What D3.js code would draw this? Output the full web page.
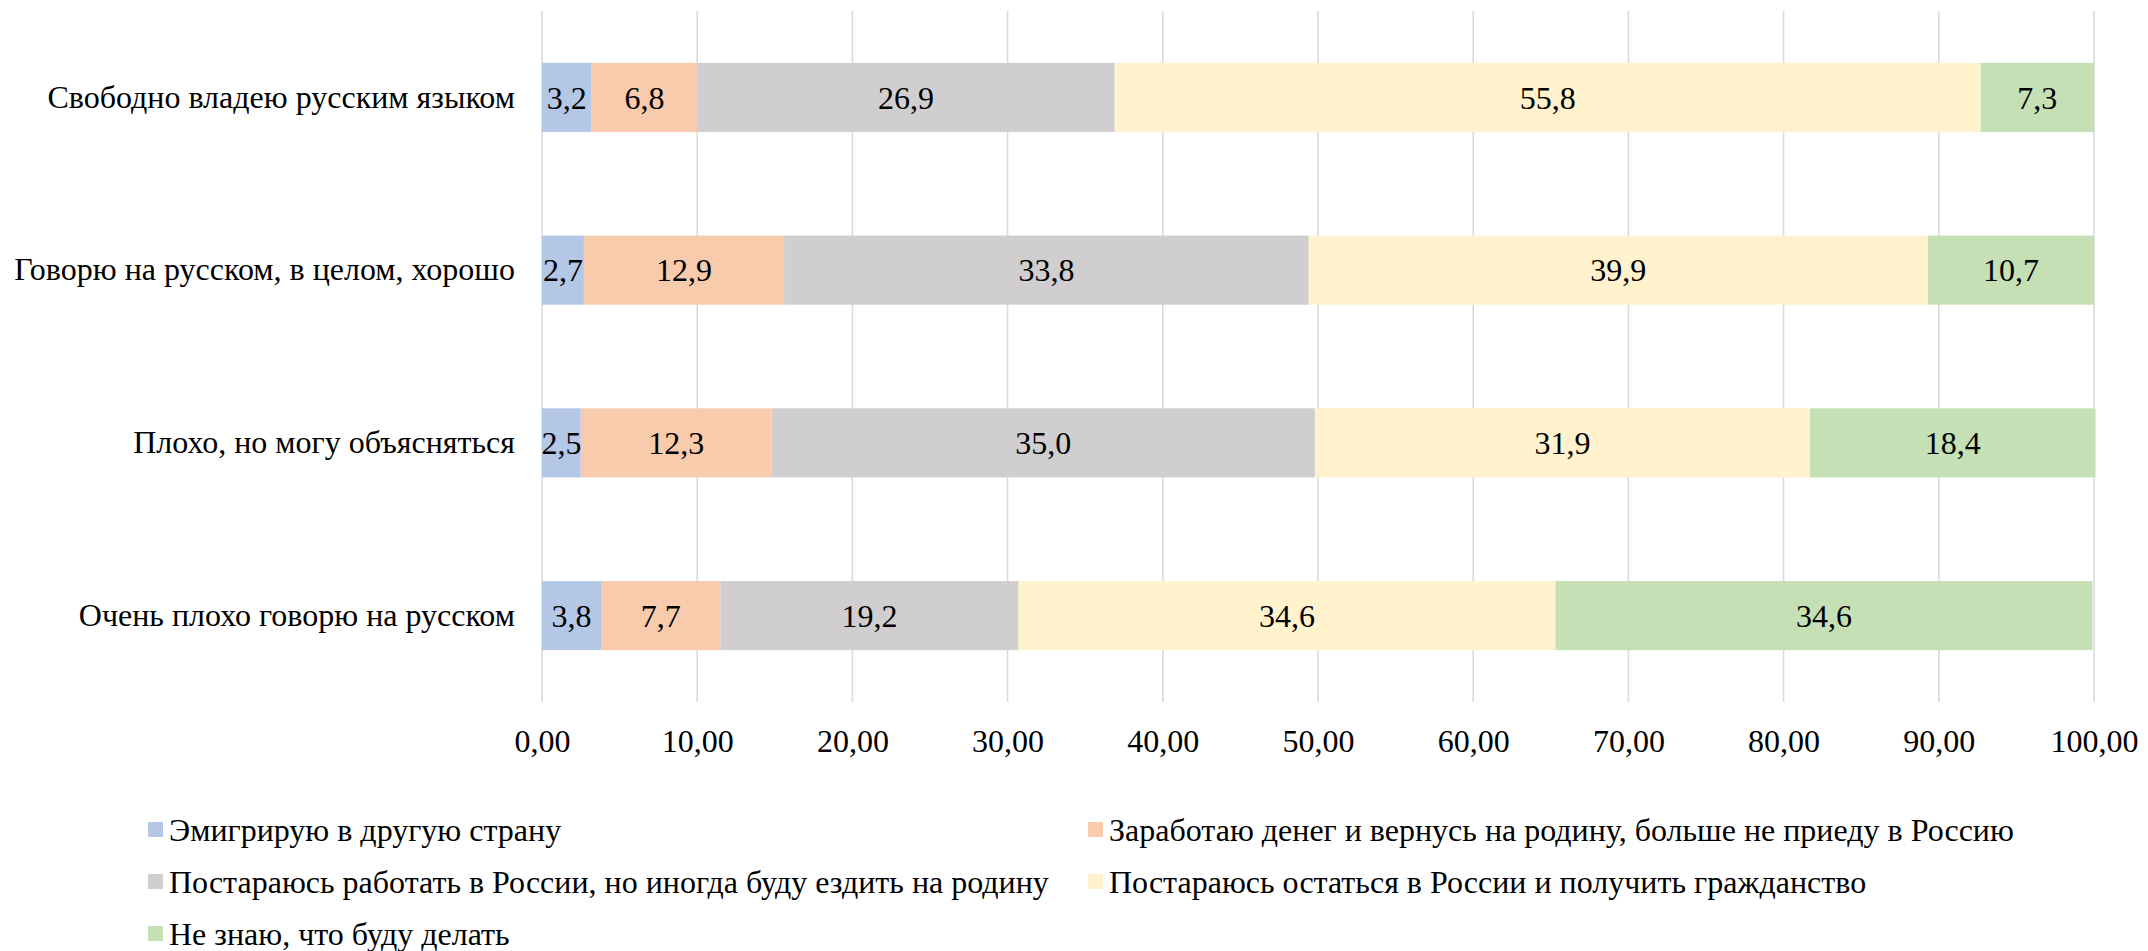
<!DOCTYPE html>
<html>
<head>
<meta charset="utf-8">
<script src="https://cdn.jsdelivr.net/npm/d3@7"></script>
<style>
  body { margin: 0; background: #fff; }
</style>
</head>
<body>
<svg width="2148" height="951"></svg>
<script>
// categories (top to bottom)
const categories = [
  "Свободно владею русским языком",
  "Говорю на русском, в целом, хорошо",
  "Плохо, но могу объясняться",
  "Очень плохо говорю на русском"
];

const seriesNames = [
  "Эмигрирую в другую страну",
  "Заработаю денег и вернусь на родину, больше не приеду в Россию",
  "Постараюсь работать в России, но иногда буду ездить на родину",
  "Постараюсь остаться в России и получить гражданство",
  "Не знаю, что буду делать"
];

const emigrate = [3.2, 2.7, 2.5, 3.8];
const earnReturn = [6.8, 12.9, 12.3, 7.7];
const workVisit = [26.9, 33.8, 35.0, 19.2];
const stayCitizen = [55.8, 39.9, 31.9, 34.6];
const dontKnow = [7.3, 10.7, 18.4, 34.6];

const seriesValues = [emigrate, earnReturn, workVisit, stayCitizen, dontKnow];
const colors = ["#b4c7e7", "#f8cbad", "#d0cece", "#fff2cc", "#c5e0b4"];
const xTicks = [0, 10, 20, 30, 40, 50, 60, 70, 80, 90, 100];

const svg = d3.select("svg");
const margin = { left: 542, right: 2148 - 2094, top: 11, bottom: 951 - 702 };
const W = 2148, H = 951;
const fontSize = 32;
const serif = '"Liberation Serif"';

const x = d3.scaleLinear().domain([0, 100]).range([margin.left, W - margin.right]);
const y = d3.scaleBand().domain(categories).range([margin.top, H - margin.bottom]).paddingInner(0.6).paddingOuter(0.3);

// gridlines
svg.append("g")
  .selectAll("line")
  .data(xTicks)
  .join("line")
  .attr("x1", d => x(d)).attr("x2", d => x(d))
  .attr("y1", margin.top).attr("y2", H - margin.bottom)
  .attr("stroke", "#d9d9d9")
  .attr("stroke-width", 1.5);

// stacked data
const rows = categories.map((c, i) => {
  const r = { cat: c };
  seriesNames.forEach((s, j) => { r[s] = seriesValues[j][i]; });
  return r;
});
const stack = d3.stack().keys(seriesNames)(rows);

const fmt = v => d3.format(".1f")(v).replace(".", ",");

stack.forEach((layer, j) => {
  const g = svg.append("g");
  g.selectAll("rect")
    .data(layer)
    .join("rect")
    .attr("x", d => x(d[0]))
    .attr("width", d => x(d[1]) - x(d[0]))
    .attr("y", d => y(d.data.cat))
    .attr("height", y.bandwidth())
    .attr("fill", colors[j]);
  g.selectAll("text")
    .data(layer)
    .join("text")
    .attr("x", d => (x(d[0]) + x(d[1])) / 2)
    .attr("y", d => y(d.data.cat) + y.bandwidth() / 2)
    .attr("dy", "0.35em")
    .attr("text-anchor", "middle")
    .attr("font-size", fontSize)
    .style("font-family", serif)
    .attr("fill", "#000")
    .text(d => fmt(d[1] - d[0]));
});

// y axis labels
const yAxis = d3.axisLeft(y).tickSize(0).tickPadding(27);
svg.append("g")
  .attr("transform", `translate(${margin.left},0)`)
  .call(yAxis)
  .call(g => g.select(".domain").remove())
  .selectAll("text")
  .attr("font-size", fontSize)
  .style("font-family", serif)
  .attr("fill", "#000");

// x axis labels
const xAxis = d3.axisBottom(x).tickValues(xTicks).tickSize(0).tickPadding(27)
  .tickFormat(d => d3.format(".2f")(d).replace(".", ","));
svg.append("g")
  .attr("transform", `translate(0,${H - margin.bottom})`)
  .call(xAxis)
  .call(g => g.select(".domain").remove())
  .selectAll("text")
  .attr("font-size", fontSize)
  .style("font-family", serif)
  .attr("fill", "#000");

// legend
const legendPos = [
  [148, 830], [1088, 830],
  [148, 882], [1088, 882],
  [148, 934]
];
const legend = svg.append("g")
  .selectAll("g")
  .data(seriesNames)
  .join("g")
  .attr("transform", (d, i) => `translate(${legendPos[i][0]},${legendPos[i][1]})`);
legend.append("rect")
  .attr("x", 0).attr("y", -8)
  .attr("width", 15).attr("height", 15)
  .attr("fill", (d, i) => colors[i]);
legend.append("text")
  .attr("x", 21)
  .attr("dy", "0.35em")
  .attr("font-size", fontSize)
  .style("font-family", serif)
  .attr("fill", "#000")
  .text(d => d);
</script>
</body>
</html>
